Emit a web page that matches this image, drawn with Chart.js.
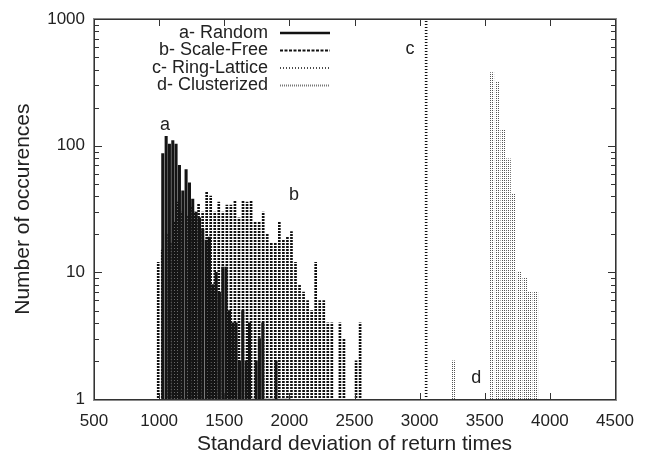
<!DOCTYPE html>
<html>
<head>
<meta charset="utf-8">
<script src="https://cdn.jsdelivr.net/npm/chart.js@4"></script>
<style>
  html, body { margin: 0; padding: 0; background: #fff; }
  #wrap { width: 648px; height: 459px; }
</style>
</head>
<body>
<div id="wrap"><canvas id="histChart" width="648" height="459"></canvas></div>
<script>
// histogram bins (std. deviation of return times) and counts
const randomX = [1028, 1054, 1079, 1105, 1130, 1156, 1182, 1207, 1233, 1258, 1284, 1310, 1335, 1361, 1386, 1412, 1438, 1463, 1489, 1514,
    1540, 1566, 1591, 1617, 1642, 1668, 1694, 1719, 1745, 1770, 1796, 1822, 1847, 1873, 1898, 1924, 1950, 1975, 2001];
const randomY = [87, 119, 103, 110, 103, 70, 44, 65, 51, 38, 30, 27, 22, 18, 19, 8, 10, 7, 11, 11,
    5, 4, 4, 2, 5, 2, 4, 1, 2, 3, 4, 1, 1, 1, 2, 1, 1, 1, 1];

const scaleFreeX = [993, 1024, 1055, 1086, 1117, 1148, 1179, 1210, 1241, 1272, 1303, 1334, 1365, 1396, 1427, 1458, 1489, 1520, 1551, 1582,
    1613, 1644, 1675, 1706, 1737, 1768, 1799, 1830, 1861, 1892, 1923, 1954, 1985, 2016, 2047, 2078, 2109, 2140, 2171, 2202,
    2233, 2264, 2295, 2326, 2357, 2388, 2419, 2450, 2481, 2512, 2543];
const scaleFreeY = [12, 15, 20, 17, 25, 36, 30, 28, 33, 30, 35, 30, 43, 40, 30, 36, 30, 34, 34, 37,
    27, 37, 36, 37, 25, 25, 30, 20, 17, 17, 25, 18, 19, 21, 12, 8, 7, 6, 5, 12,
    6, 6, 4, 4, 1, 4, 3, 1, 1, 2, 4];

const ringX = [3050];
const ringY = [1000];

const clusterX = [3260, 3554, 3597, 3639, 3682, 3720, 3764, 3808, 3848, 3892];
const clusterY = [2, 379, 318, 134, 79, 42, 10, 9, 7, 7];

const seriesNames = ['a- Random', 'b- Scale-Free', 'c- Ring-Lattice', 'd- Clusterized'];
const curveLetters = ['a', 'b', 'c', 'd'];
const letterAt = [[1045, 147], [2036, 41], [2927, 580], [3434, 1.46]];

const xTickValues = [500, 1000, 1500, 2000, 2500, 3000, 3500, 4000, 4500];
const yDecades = [1, 10, 100, 1000];

const FONT = '"Liberation Sans", Arial, Helvetica, sans-serif';
const INK = '#222';
const FRAME = '#333';
const FRAME_SOFT = '#8a8a8a';

function points(xs, ys) {
    return xs.map((x, i) => ({ x: x, y: ys[i] }));
}

// dash patterns for the impulses (gnuplot-ish line types)
function stripePattern(w, h, color, onRows, onCols) {
    const c = document.createElement('canvas');
    c.width = w;
    c.height = h;
    const g = c.getContext('2d');
    g.fillStyle = color;
    for (let yy = 0; yy < h; yy++) {
        for (let xx = 0; xx < w; xx++) {
            if (onRows.includes(yy) && onCols.includes(xx)) g.fillRect(xx, yy, 1, 1);
        }
    }
    return document.getElementById('histChart').getContext('2d').createPattern(c, 'repeat');
}

const dashB = stripePattern(1, 3, '#111', [0, 1], [0]);
const dotC = stripePattern(1, 3, '#111', [0], [0]);
const dotD = stripePattern(2, 2, '#555', [0], [0]);

// legend samples, drawn as lines
const legendStyle = [
    { dash: [], width: 2.4, color: '#111' },
    { dash: [3, 1.5], width: 2, color: '#111' },
    { dash: [1, 2], width: 1.6, color: '#111' },
    { dash: [1, 1], width: 2, color: '#777' }
];

const frameAndTicks = {
    id: 'frameAndTicks',
    afterDraw(chart) {
        const c = chart.ctx;
        const a = chart.chartArea;
        const x = chart.scales.x, y = chart.scales.y;
        const l = Math.round(a.left), t = Math.round(a.top);
        const r = Math.round(a.right), b = Math.round(a.bottom);
        c.save();
        // frame: a dark 1px line with a soft 1px edge outside it
        c.fillStyle = FRAME_SOFT;
        c.fillRect(l - 1, t - 1, r - l + 2, 1);
        c.fillRect(l - 1, b + 1, r - l + 3, 1);
        c.fillRect(l - 1, t - 1, 1, b - t + 3);
        c.fillRect(r + 1, t - 1, 1, b - t + 3);
        c.fillStyle = FRAME;
        c.fillRect(l, t, r - l + 1, 1);
        c.fillRect(l, b, r - l + 1, 1);
        c.fillRect(l, t, 1, b - t + 1);
        c.fillRect(r, t, 1, b - t + 1);
        // inward ticks, mirrored
        xTickValues.forEach(v => {
            const px = Math.round(x.getPixelForValue(v));
            c.fillRect(px, b - 6, 1, 6);
            c.fillRect(px, t + 1, 1, 6);
        });
        yDecades.forEach(d => {
            for (let m = 1; m <= 9; m++) {
                const v = d * m;
                if (v > 1000) break;
                const len = m === 1 ? 7 : 4;
                const py = Math.round(y.getPixelForValue(v));
                c.fillRect(l + 1, py, len, 1);
                c.fillRect(r - len, py, len, 1);
            }
        });

        // curve letters
        c.fillStyle = INK;
        c.font = '18px ' + FONT;
        c.textAlign = 'center';
        c.textBaseline = 'middle';
        curveLetters.forEach((txt, i) => {
            c.fillText(txt, x.getPixelForValue(letterAt[i][0]), y.getPixelForValue(letterAt[i][1]));
        });

        // legend, top-left inside the frame
        const textRight = 268, lineL = 280, lineR = 330;
        c.textAlign = 'right';
        seriesNames.forEach((name, i) => {
            const ly = 33 + i * 17.5;
            c.fillStyle = INK;
            c.fillText(name, textRight, ly);
            const s = legendStyle[i];
            c.beginPath();
            c.setLineDash(s.dash);
            c.lineWidth = s.width;
            c.strokeStyle = s.color;
            c.moveTo(lineL, ly);
            c.lineTo(lineR, ly);
            c.stroke();
        });
        c.restore();
    }
};

const ctx = document.getElementById('histChart').getContext('2d');

new Chart(ctx, {
    type: 'bar',
    data: {
        datasets: [
            { label: seriesNames[0], data: points(randomX, randomY), backgroundColor: '#151515', barThickness: 2.4 },
            { label: seriesNames[1], data: points(scaleFreeX, scaleFreeY), backgroundColor: dashB, barThickness: 2 },
            { label: seriesNames[2], data: points(ringX, ringY), backgroundColor: dotC, barThickness: 2 },
            { label: seriesNames[3], data: points(clusterX, clusterY), backgroundColor: dotD, barThickness: 4 }
        ]
    },
    options: {
        responsive: false,
        animation: false,
        events: [],
        layout: { padding: { top: 17, right: 33, left: 0, bottom: 0 } },
        datasets: { bar: { grouped: false, borderWidth: 0, borderSkipped: false } },
        plugins: { legend: { display: false }, tooltip: { enabled: false } },
        scales: {
            x: {
                type: 'linear',
                min: 500,
                max: 4500,
                offset: false,
                grid: { display: false, drawTicks: false },
                border: { display: false },
                afterBuildTicks: s => { s.ticks = xTickValues.map(v => ({ value: v })); },
                afterFit: s => { s.height = 60; },
                ticks: {
                    autoSkip: false,
                    maxRotation: 0,
                    padding: 12,
                    color: INK,
                    font: { family: FONT, size: 17 },
                    callback: v => String(v)
                },
                title: {
                    display: true,
                    text: 'Standard deviation of return times',
                    color: INK,
                    font: { family: FONT, size: 21 },
                    padding: { top: 0, bottom: 2 }
                }
            },
            y: {
                type: 'logarithmic',
                min: 1,
                max: 1000,
                grid: { display: false, drawTicks: false },
                border: { display: false },
                afterBuildTicks: s => { s.ticks = yDecades.map(v => ({ value: v })); },
                afterFit: s => { s.width = 94; },
                ticks: {
                    autoSkip: false,
                    padding: 9,
                    color: INK,
                    font: { family: FONT, size: 17 },
                    callback: v => String(v)
                },
                title: {
                    display: true,
                    text: 'Number of occurences',
                    color: INK,
                    font: { family: FONT, size: 21 },
                    padding: { top: 11, bottom: 0 }
                }
            }
        }
    },
    plugins: [frameAndTicks]
});
</script>
</body>
</html>
